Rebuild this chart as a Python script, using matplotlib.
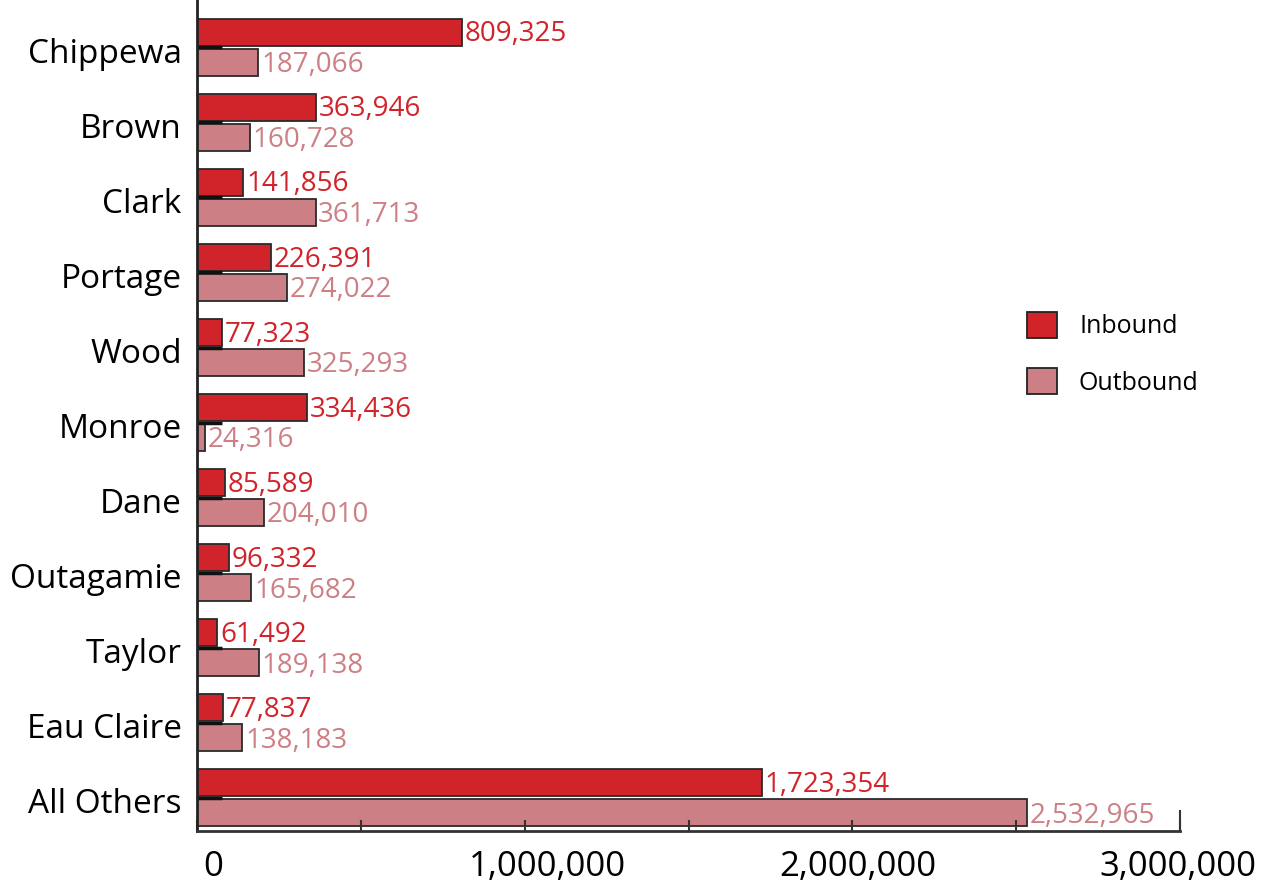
import matplotlib
matplotlib.use("Agg")
import matplotlib.pyplot as plt
import matplotlib.transforms as mtransforms
from matplotlib.patches import Patch
import numpy as np

categories = ["Chippewa", "Brown", "Clark", "Portage", "Wood", "Monroe", "Dane",
              "Outagamie", "Taylor", "Eau Claire", "All Others"]
inbound = [809325, 363946, 141856, 226391, 77323, 334436, 85589, 96332, 61492, 77837, 1723354]
outbound = [187066, 160728, 361713, 274022, 325293, 24316, 204010, 165682, 189138, 138183, 2532965]
xticks = [0, 1000000, 2000000, 3000000]
xtick_labels = ["0", "1,000,000", "2,000,000", "3,000,000"]

RED = "#D0232A"
PINK = "#CC8085"
FONT = "Open Sans"

plt.rcParams['font.family'] = [FONT, 'DejaVu Sans']

fig = plt.figure(figsize=(12.64, 8.88), dpi=100)
ax = fig.add_axes([197/1264, 1 - 831/888, (1180-197)/1264, 831/888])

y = np.arange(len(categories))
off = 0.2
h = 0.36
ax.barh(y - off, inbound, height=h, color=RED, edgecolor="#2a2a2a", linewidth=1.3)
ax.barh(y + off, outbound, height=h, color=PINK, edgecolor="#2a2a2a", linewidth=1.3)

for yi, v in zip(y, inbound):
    ax.annotate(f"{v:,}", (v, yi - off), xytext=(2, -1.5), textcoords="offset points",
                va="center", ha="left", color=RED, fontsize=20)
for yi, v in zip(y, outbound):
    ax.annotate(f"{v:,}", (v, yi + off), xytext=(2, -2), textcoords="offset points",
                va="center", ha="left", color=PINK, fontsize=20)

ax.set_xlim(0, 3000000)
ax.set_ylim(10.44, -0.63)

ax.set_yticks(y)
ax.set_yticklabels(categories, fontsize=24)
ax.tick_params(axis="y", direction="in", length=18, width=2.5, pad=11, color="#111111")
for lab in ax.get_yticklabels():
    lab.set_transform(lab.get_transform() + mtransforms.ScaledTranslation(0, -3/100, fig.dpi_scale_trans))

ax.set_xticks(xticks)
ax.set_xticklabels(xtick_labels, fontsize=25)
ax.set_xticks([500000, 1500000, 2500000], minor=True)
ax.tick_params(axis="x", which="both", direction="in", length=8, width=1.5, pad=14, color="#333333")
offsets_px = [16, 23, 5, -2]
for lab, dx in zip(ax.get_xticklabels(), offsets_px):
    lab.set_transform(lab.get_transform() + mtransforms.ScaledTranslation(dx/100, 0, fig.dpi_scale_trans))

ax.axvline(3000000, ymin=0, ymax=20/831, color="#333333", linewidth=1.5, clip_on=False)

for s in ["top", "right"]:
    ax.spines[s].set_visible(False)
ax.spines["left"].set_linewidth(2)
ax.spines["left"].set_color("#222222")
ax.spines["bottom"].set_linewidth(2)
ax.spines["bottom"].set_color("#333333")

handles = [Patch(facecolor=RED, edgecolor="#222222", linewidth=1.3, label="Inbound"),
           Patch(facecolor=PINK, edgecolor="#222222", linewidth=1.3, label="Outbound")]
fs = 18
px = fs * 100 / 72
fig.legend(handles=handles, loc="upper left", bbox_to_anchor=(1027/1264, 1 - 312/888),
           frameon=False, fontsize=fs, handlelength=30/px, handleheight=30/px,
           handletextpad=22/px, labelspacing=29/px, borderpad=0, borderaxespad=0)

fig.savefig("out.png", dpi=100)
